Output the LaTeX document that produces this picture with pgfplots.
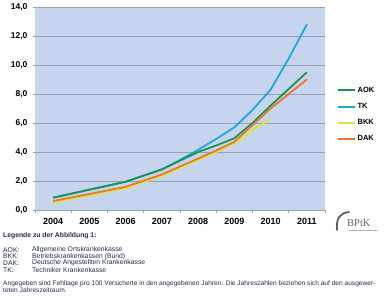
\documentclass[border=0pt]{standalone}
\usepackage{pgfplots}
\pgfplotsset{compat=1.18}
\usepackage{fontspec}
\setmainfont{Liberation Sans}
\newfontfamily\seriffont{Liberation Serif}
\definecolor{bg}{RGB}{198,212,238}
\definecolor{gridc}{RGB}{150,160,182}
\definecolor{aok}{RGB}{28,150,78}
\definecolor{tk}{RGB}{32,166,220}
\definecolor{bkk}{RGB}{222,228,60}
\definecolor{dak}{RGB}{236,120,40}
\definecolor{txt}{RGB}{35,45,80}
\begin{document}
\begin{tikzpicture}
\path[use as bounding box] (0,0) rectangle (388pt,302pt);
\begin{axis}[
  at={(35pt,92pt)}, anchor=south west,
  scale only axis, width=290pt, height=203pt,
  xmin=-0.5, xmax=7.5, ymin=0, ymax=14,
  xtick={0,...,7}, xticklabels={2004,2005,2006,2007,2008,2009,2010,2011},
  minor xtick={-0.5,0.5,...,7.5},
  ytick={0,2,...,14},
  yticklabel={\pgfmathprintnumber[fixed,fixed zerofill,precision=1,use comma,assume math mode=true]{\tick}},
  /pgf/number format/assume math mode=true,
  axis x line*=bottom, axis y line*=left,
  x axis line style={gridc, line width=0.8pt, -},
  y axis line style={draw=none},
  tick align=outside,
  major x tick style={draw=none},
  minor x tick style={gridc, line width=0.6pt},
  minor tick length=3pt,
  ytick style={gridc, line width=0.6pt},
  major tick length=2pt,
  ymajorgrids,
  major grid style={gridc, line width=0.8pt},
  axis background/.style={fill=bg},
  xticklabel style={font=\bfseries\fontsize{9}{10}\selectfont, yshift=-3pt},
  yticklabel style={font=\bfseries\fontsize{8.5}{10}\selectfont, xshift=-2pt},
  legend style={at={(1.04,0.617)}, anchor=north west, draw=none, fill=none,
    inner sep=0pt, row sep=5.6pt,
    font=\bfseries\fontsize{7.5}{9}\selectfont},
  legend cell align=left,
  legend image code/.code={\draw[#1] (0pt,0pt) -- (17pt,0pt);},
  every axis plot/.append style={line width=1.8pt, line join=round},
]
\addplot[tk, forget plot] coordinates {(0,0.85)(1,1.4)(2,1.95)(3,2.8)(3.5,3.45)(4,4.15)(4.5,4.9)(5,5.7)(5.5,6.9)(6,8.3)(6.5,10.45)(7,12.8)};
\addplot[aok] coordinates {(0,0.85)(1,1.4)(2,1.95)(3,2.8)(3.5,3.4)(4,4.0)(4.5,4.45)(5,4.95)(5.5,6.0)(6,7.2)(6.5,8.35)(7,9.5)};
\addlegendentry{AOK}
\addlegendimage{tk, line width=1.8pt}
\addlegendentry{TK}
\addplot[bkk] coordinates {(0,0.5)(1,1.0)(2,1.5)(3,2.35)(4,3.45)(4.5,4.0)(5,4.6)(5.5,5.5)(6,6.3)};
\addlegendentry{BKK}
\addplot[dak] coordinates {(0,0.62)(1,1.1)(2,1.6)(3,2.45)(3.5,3.0)(4,3.55)(4.5,4.1)(5,4.7)(5.5,5.85)(6,7.0)(6.5,8.0)(7,9.0)};
\addlegendentry{DAK}
\end{axis}
% logo
\draw[gray!75!black, line width=1.8pt, line cap=round] (337pt,72pt) .. controls (336pt,84pt) and (340pt,89pt) .. (349pt,90pt);
\node[anchor=west, inner sep=0pt, text=gray!80!black, font=\seriffont\fontsize{10.5}{11}\selectfont] at (347pt,79pt) {BPtK};
\draw[gray!60, line width=0.4pt] (349pt,71.5pt) -- (378pt,71.5pt);
% text block
\begin{scope}[every node/.style={anchor=west, inner sep=0pt, text=txt, font=\fontsize{6.8}{8}\selectfont}]
\node[font=\bfseries\fontsize{6.8}{8}\selectfont] at (3pt,66pt) {Legende zu der Abbildung 1:};
\node at (3pt,52.3pt) {AOK:};
\node at (32pt,52.3pt) {Allgemeine Ortskrankenkasse};
\node at (3pt,45.7pt) {BKK:};
\node at (32pt,45.7pt) {Betriebskrankenkassen (Bund)};
\node at (3pt,39pt) {DAK:};
\node at (32pt,39pt) {Deutsche Angestellten Krankenkasse};
\node at (3pt,32.3pt) {TK:};
\node at (32pt,32.3pt) {Techniker Krankenkasse};
\node[font=\fontsize{6.6}{8}\selectfont] at (3pt,18pt) {Angegeben sind Fehltage pro 100 Versicherte in den angegebenen Jahren. Die Jahreszahlen beziehen sich auf den ausgewer-};
\node[font=\fontsize{6.6}{8}\selectfont] at (3pt,11.5pt) {teten Jahreszeitraum.};
\end{scope}
\end{tikzpicture}
\end{document}
